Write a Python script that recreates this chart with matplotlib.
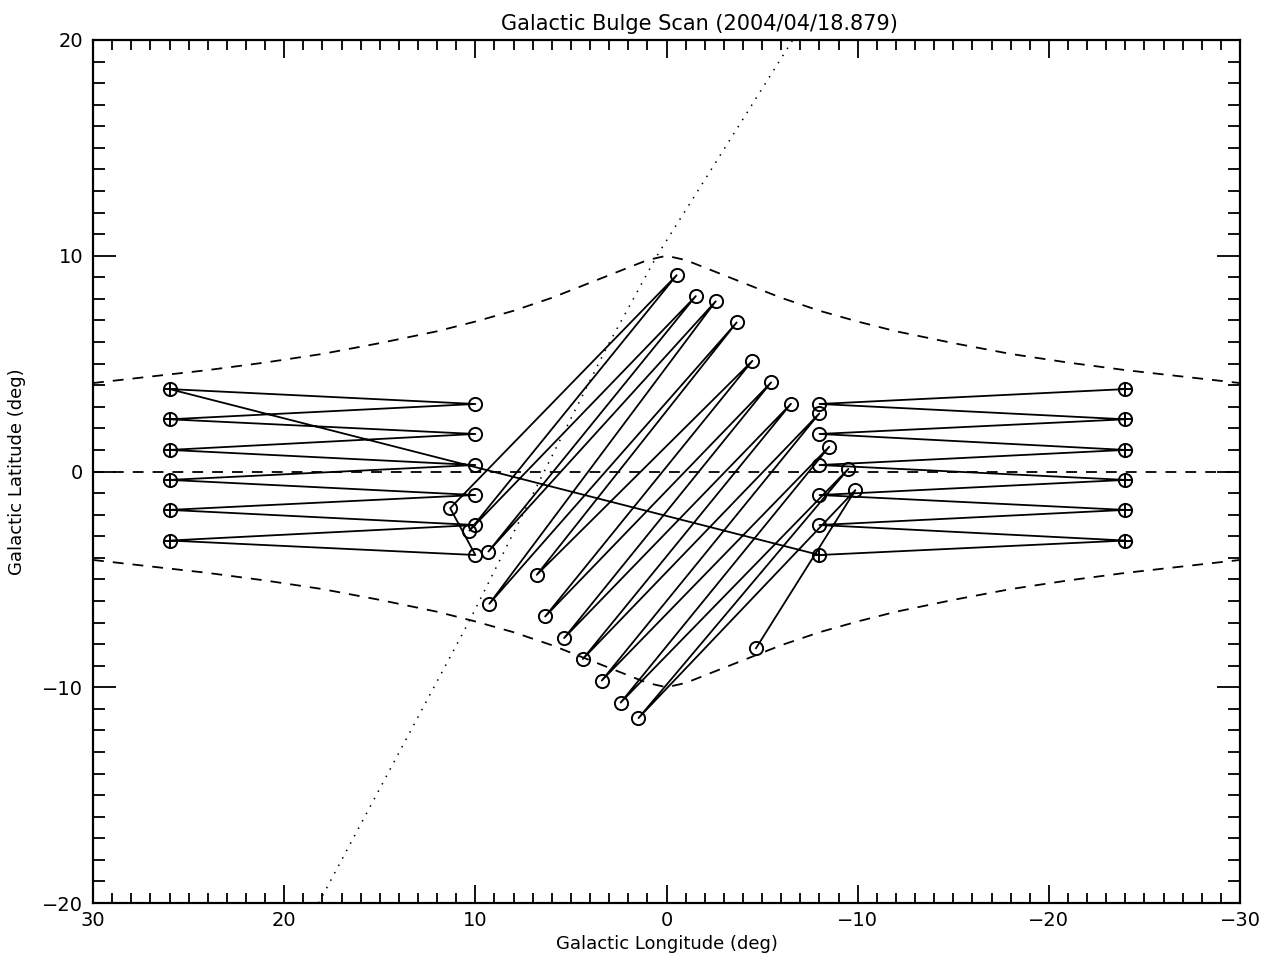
"""Galactic bulge scan pattern: raster pointings in galactic coordinates."""

import matplotlib

matplotlib.use("Agg")
import matplotlib.pyplot as plt
from matplotlib.ticker import MultipleLocator

# Horizontal raster rows (latitude of the outer "+" ends and the inner open ends).
row_b_far = [3.82, 2.42, 1.00, -0.39, -1.78, -3.20]
row_b_near = [3.13, 1.74, 0.30, -1.09, -2.48, -3.87]
left_far_l, left_near_l = 26.0, 10.0
right_near_l, right_far_l = -8.0, -24.0

# Diagonal raster across the centre: lower-left and upper-right turning points.
low_l = [11.32, 10.31, 9.32, 9.27, 6.79, 6.35, 5.36, 4.38, 3.39, 2.40, 1.47, -4.68]
low_b = [-1.70, -2.74, -3.71, -6.13, -4.79, -6.72, -7.72, -8.69, -9.69, -10.71, -11.43, -8.19]
up_l = [-0.53, -1.53, -2.57, -3.67, -4.49, -5.47, -6.51, -7.99, -8.51, -9.51, -9.88]
up_b = [9.10, 8.13, 7.89, 6.91, 5.13, 4.13, 3.14, 2.69, 1.15, 0.12, -0.86]

# Dashed bulge envelope and dotted reference curve.
env_l = [30, 27, 24, 21, 18, 15, 12, 10, 8, 6, 4, 2, 1, 0,
         -1, -2, -4, -6, -8, -10, -12, -15, -18, -21, -24, -27, -30]
env_b_up = [4.1, 4.4, 4.7, 5.05, 5.45, 5.95, 6.5, 6.95, 7.45, 8.05, 8.75, 9.45, 9.8, 10.0,
            9.8, 9.45, 8.75, 8.05, 7.45, 6.95, 6.5, 5.95, 5.45, 5.05, 4.7, 4.4, 4.1]
env_b_lo = [-4.1, -4.4, -4.7, -5.05, -5.45, -5.95, -6.5, -6.95, -7.45, -8.05, -8.75, -9.45, -9.8, -10.0,
            -9.8, -9.45, -8.75, -8.05, -7.45, -6.95, -6.5, -5.95, -5.45, -5.05, -4.7, -4.4, -4.1]
dot_l = [18.2, 10.3, 6.4, 3.1, 0.5, -6.6]
dot_b = [-20.0, -6.9, 0.0, 5.8, 10.0, 20.0]

TITLE = "Galactic Bulge Scan (2004/04/18.879)"


def build_path():
    """Chain right raster -> slew -> left raster -> diagonal raster."""
    pl, pb = [], []
    for bf, bn in zip(row_b_far, row_b_near):
        pl += [right_far_l, right_near_l]
        pb += [bf, bn]
    for bf, bn in zip(row_b_far, row_b_near):
        pl += [left_far_l, left_near_l]
        pb += [bf, bn]
    for i in range(len(up_l)):
        pl += [low_l[i], up_l[i]]
        pb += [low_b[i], up_b[i]]
    pl.append(low_l[-1])
    pb.append(low_b[-1])
    return pl, pb


def main():
    fig = plt.figure(figsize=(12.66, 9.66), dpi=100)
    ax = fig.add_axes([0.0735, 0.0652, 0.906, 0.8934])

    dash = (0, (6, 5))
    ax.plot(env_l, env_b_up, color="black", lw=1.3, ls=dash)
    ax.plot(env_l, env_b_lo, color="black", lw=1.3, ls=dash)
    ax.plot([env_l[0], env_l[-1]], [0, 0], color="black", lw=1.3, ls=dash)
    ax.plot(dot_l, dot_b, color="black", lw=1.1, ls=(0, (1, 4.5)))

    pl, pb = build_path()
    ax.plot(pl, pb, color="black", lw=1.3, marker="o", ms=9.5,
            mfc="none", mec="black", mew=1.4)

    # "+" inside the circles at the outer raster ends and the slew landing point.
    cross_l = [left_far_l] * 6 + [right_far_l] * 6 + [right_near_l]
    cross_b = row_b_far + row_b_far + [row_b_near[-1]]
    ax.plot(cross_l, cross_b, ls="none", marker="+", ms=9.5, mew=1.4, color="black")

    ax.set_xlim(30, -30)
    ax.set_ylim(-20, 20)
    ax.xaxis.set_major_locator(MultipleLocator(10))
    ax.xaxis.set_minor_locator(MultipleLocator(1))
    ax.yaxis.set_major_locator(MultipleLocator(10))
    ax.yaxis.set_minor_locator(MultipleLocator(1))
    ax.tick_params(which="both", direction="in", top=True, right=True,
                   width=1.3, labelsize=14, colors="black")
    ax.tick_params(axis="x", which="major", length=13, pad=6)
    ax.tick_params(axis="x", which="minor", length=7)
    ax.tick_params(axis="y", which="major", length=16.5, pad=7)
    ax.tick_params(axis="y", which="minor", length=8.5)
    for sp in ax.spines.values():
        sp.set_linewidth(1.6)

    ax.set_xlabel("Galactic Longitude (deg)", fontsize=13, labelpad=3)
    ax.set_ylabel("Galactic Latitude (deg)", fontsize=13, labelpad=12)
    # the original title sits a little right of the axes centre
    ax.set_title(TITLE, fontsize=15, pad=7, x=0.529)

    fig.savefig("out.png", dpi=100)
    plt.close(fig)


if __name__ == "__main__":
    main()
